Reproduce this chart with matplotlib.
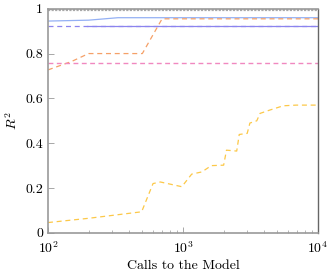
#!/usr/bin/env python3
"""R^2 against number of model calls."""

import matplotlib
matplotlib.use("Agg")
from matplotlib import pyplot

# calls to the model (x) and R^2 values (y) for each series
TOP_X = [100, 10000]
TOP_Y = [0.993, 0.993]

LIGHTBLUE_X = [100, 200, 330, 10000]
LIGHTBLUE_Y = [0.945, 0.949, 0.960, 0.960]

PURPLE_DASH_X = [100, 10000]
PURPLE_DASH_Y = [0.923, 0.923]
PURPLE_X = [195, 10000]
PURPLE_Y = [0.923, 0.923]

ORANGE_X = [100, 150, 200, 500, 700, 10000]
ORANGE_Y = [0.727, 0.765, 0.800, 0.800, 0.955, 0.955]

PINK_X = [100, 10000]
PINK_Y = [0.760, 0.760]

YELLOW_X = [100, 200, 494, 600, 680, 980, 1160, 1380, 1620, 2000, 2100,
            2500, 2610, 2990, 3130, 3520, 3720, 4400, 5530, 6900, 10000]
YELLOW_Y = [0.046, 0.065, 0.094, 0.220, 0.227, 0.206, 0.262, 0.272, 0.300,
            0.302, 0.369, 0.365, 0.439, 0.444, 0.490, 0.500, 0.533, 0.548,
            0.567, 0.570, 0.570]

YTICKS = [0, 0.2, 0.4, 0.6, 0.8, 1.0]
YTICKLABELS = ["0", "0.2", "0.4", "0.6", "0.8", "1"]

matplotlib.rcParams.update({
    "font.size": 10,
    "font.family": "serif",
    "font.serif": ["cmr10", "DejaVu Serif"],
    "mathtext.fontset": "cm",
    "axes.formatter.use_mathtext": True,
})

fig = pyplot.figure(figsize=(3.33, 2.73), dpi=100)
ax = fig.add_axes([0.144, 0.147, 0.811, 0.821])

ax.plot(TOP_X, TOP_Y, color="#a8a8a8", lw=1.6, dashes=(1, 0.6))
ax.plot(LIGHTBLUE_X, LIGHTBLUE_Y, color="#94b0f4", lw=0.9)
ax.plot(PURPLE_DASH_X, PURPLE_DASH_Y, color="#8c84ee", lw=0.9, dashes=(4, 3))
ax.plot(PURPLE_X, PURPLE_Y, color="#8c84ee", lw=0.9)
ax.plot(ORANGE_X, ORANGE_Y, color="#f5a068", lw=0.9, dashes=(4, 3))
ax.plot(PINK_X, PINK_Y, color="#f088c0", lw=1.0, dashes=(3.5, 2.5))
ax.plot(YELLOW_X, YELLOW_Y, color="#fcc848", lw=0.9, dashes=(4, 3))

ax.set_xscale("log")
ax.set_xlim(100, 10000)
ax.set_ylim(0, 1)
ax.set_yticks(YTICKS)
ax.set_yticklabels(YTICKLABELS)

ax.tick_params(which="both", direction="in", color="#999999")
ax.tick_params(which="major", length=4, width=0.6)
ax.tick_params(which="minor", length=2.5, width=0.5)
ax.tick_params(axis="x", pad=5)
for side in ("left", "bottom", "top"):
    ax.spines[side].set_color("#9a9a9a")
    ax.spines[side].set_linewidth(1.2)
ax.spines["right"].set_color("#666666")
ax.spines["right"].set_linewidth(1.0)

ax.set_xlabel("Calls to the Model", labelpad=3)
ax.set_ylabel("$R^2$")

fig.savefig("out.png", dpi=100)
